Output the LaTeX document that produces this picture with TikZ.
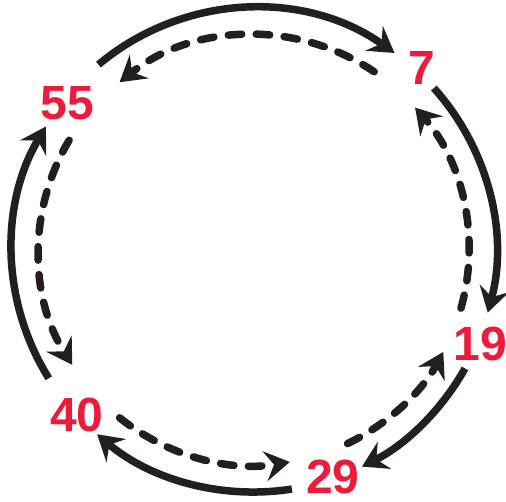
\documentclass[tikz,border=0pt]{standalone}
\usepackage{fontspec}
\setmainfont{Liberation Sans}
\usetikzlibrary{arrows.meta}
\definecolor{numred}{HTML}{EC1B3B}
\definecolor{arrowblk}{HTML}{231F20}
\begin{document}
\begin{tikzpicture}[x=1pt,y=1pt,
  lbl/.style={text=numred, font=\bfseries\fontsize{48}{48}\selectfont, inner sep=0pt},
  solidarc/.style={draw=arrowblk, line width=7.5pt, -{Stealth[length=25pt,width=30pt,inset=9pt]}},
  dasharc/.style={solidarc, line cap=round, dash pattern=on 13.5pt off 14.5pt}]
\useasboundingbox (-254,-251) rectangle (252,250);
% numbers
\node[lbl] (n7)  at (167.5,182.5) {7};
\node[lbl] (n55) at (-186.5,146.5) {55};
\node[lbl] (n19) at (226.5,-93.5) {19};
\node[lbl] (n40) at (-177,-165) {40};
\node[lbl] (n29) at (79,-226.5) {29};
% outer (solid) arc ends
\coordinate (s1) at (130:242pt);   \coordinate (e1) at (54.5:242pt);
\coordinate (s2) at (42:242pt);    \coordinate (e2) at (-15:242pt);
\coordinate (s3) at (-29.3:242pt); \coordinate (e3) at (-63.5:242pt);
\coordinate (s4) at (-81:242pt);   \coordinate (e4) at (-130.4:242pt);
\coordinate (s5) at (-148:242pt);  \coordinate (e5) at (149.3:242pt);
% inner (dashed) arc ends
\coordinate (d1) at (56:215pt);    \coordinate (f1) at (128.7:215pt);
\coordinate (d2) at (-15.7:215pt); \coordinate (f2) at (41.5:215pt);
\coordinate (d3) at (-64.2:215pt); \coordinate (f3) at (-28.3:215pt);
\coordinate (d4) at (-128.7:215pt);\coordinate (f4) at (-80.4:215pt);
\coordinate (d5) at (149.3:215pt); \coordinate (f5) at (212.3:215pt);
% solid arrows (clockwise)
\draw[solidarc] (s1) to[bend left=37.75, looseness=0.951] (e1);
\draw[solidarc] (s2) to[bend left=28.5, looseness=0.906] (e2);
\draw[solidarc] (s3) to[bend left=17.1, looseness=0.871] (e3);
\draw[solidarc] (s4) to[bend left=24.7, looseness=0.892] (e4);
\draw[solidarc] (s5) to[bend left=31.35, looseness=0.919] (e5);
% dashed arrows (counter-clockwise)
\draw[dasharc] (d1) to[bend right=36.35, looseness=0.943] (f1);
\draw[dasharc] (d2) to[bend right=28.6, looseness=0.906] (f2);
\draw[dasharc] (d3) to[bend right=17.95, looseness=0.873] (f3);
\draw[dasharc] (d4) to[bend right=24.15, looseness=0.890] (f4);
\draw[dasharc] (d5) to[bend right=31.5, looseness=0.92] (f5);
\end{tikzpicture}
\end{document}
